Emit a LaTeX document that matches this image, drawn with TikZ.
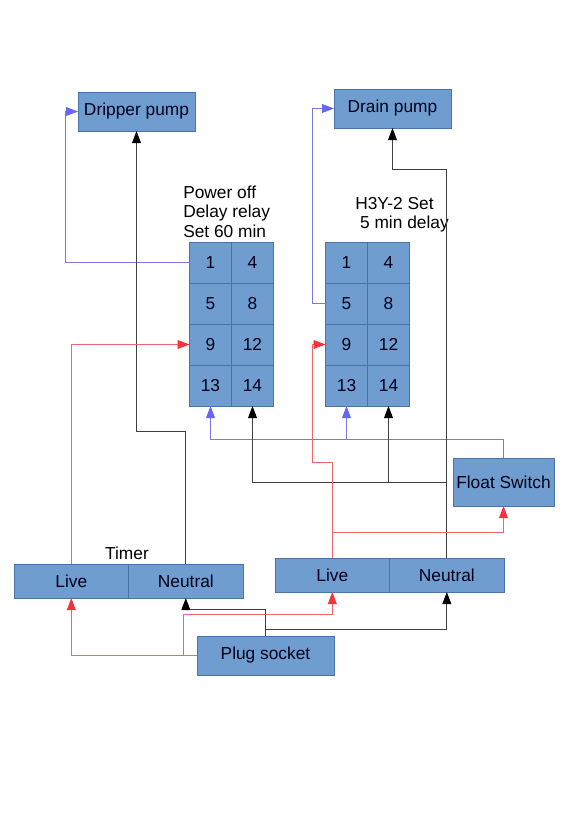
\documentclass[tikz,border=0pt]{standalone}
\usepackage{fontspec}
\setmainfont{Liberation Sans}
\usetikzlibrary{arrows.meta}
\definecolor{boxBlue}{HTML}{6F9DCF}
\definecolor{boxEdge}{HTML}{4A74A8}
\definecolor{wireRedColor}{HTML}{F0666C}
\definecolor{tipRedColor}{HTML}{F4333C}
\definecolor{wireBlueColor}{HTML}{7A78E0}
\definecolor{tipBlueColor}{HTML}{6666EE}

\begin{document}
\begin{tikzpicture}[
  x=0.75pt,
  y=-0.75pt,
  font=\fontsize{13}{14.6}\selectfont,
  block/.style={
    draw=boxEdge,
    line width=0.6pt,
    fill=boxBlue,
    text=black!90!blue,
    inner sep=0pt,
    outer sep=0pt,
    anchor=north west
  },
  pumpbox/.style={
    block,
    minimum width=87.75pt,
    minimum height=29.25pt
  },
  cell/.style={
    block,
    minimum width=31.5pt,
    minimum height=30.75pt
  },
  half/.style={
    block,
    minimum width=86pt,
    minimum height=25.5pt
  },
  caption/.style={
    anchor=north west,
    align=left,
    inner sep=0pt
  },
  wireRed/.style={line width=0.65pt, draw=wireRedColor, -{Triangle[length=9pt,width=6.6pt,color=tipRedColor]}},
  wireBlue/.style={line width=0.65pt, draw=wireBlueColor, -{Triangle[length=9pt,width=6.6pt,color=tipBlueColor]}},
  wireBlack/.style={line width=0.65pt, draw=black!75, -{Triangle[length=9pt,width=6.6pt,color=black]}}
]

\useasboundingbox (0,0) rectangle (584,825);

\node[pumpbox] (dripper) at (78,92) {Dripper pump};
\node[pumpbox] (drain) at (334,89) {Drain pump};

\node[caption] (delayText) at (183,185.5) {Power off\\Delay relay\\Set 60 min};
\node[caption] (setText) at (355,197) {H3Y-2 Set\\\hspace*{3.6pt}5 min delay};
\node[caption, anchor=north] (timerText) at (127,546.5) {Timer};

\node[cell] (delayOne) at (189.5,242) {1};
\node[cell] (delayFour) at (231.5,242) {4};
\node[cell] (delayFive) at (189.5,283) {5};
\node[cell] (delayEight) at (231.5,283) {8};
\node[cell] (delayNine) at (189.5,324) {9};
\node[cell] (delayTwelve) at (231.5,324) {12};
\node[cell] (delayThirteen) at (189.5,365) {13};
\node[cell] (delayFourteen) at (231.5,365) {14};

\node[cell] (hyOne) at (325.5,242) {1};
\node[cell] (hyFour) at (367.5,242) {4};
\node[cell] (hyFive) at (325.5,283) {5};
\node[cell] (hyEight) at (367.5,283) {8};
\node[cell] (hyNine) at (325.5,324) {9};
\node[cell] (hyTwelve) at (367.5,324) {12};
\node[cell] (hyThirteen) at (325.5,365) {13};
\node[cell] (hyFourteen) at (367.5,365) {14};

\node[block, minimum width=75.75pt, minimum height=36pt] (floatSwitch) at (453,458) {Float Switch};

\node[half] (timerLive) at (14,564) {Live};
\node[half] (timerNeutral) at (128.5,564) {Neutral};
\node[half] (hyLive) at (275,558) {Live};
\node[half] (hyNeutral) at (389.5,558) {Neutral};

\node[block, minimum width=102.75pt, minimum height=29.25pt] (plug) at (197,636) {Plug socket};

\coordinate (dripperBend) at (65,0 |- delayOne.west);
\coordinate (drainBend) at (312,0 |- hyFive.west);
\coordinate (floatBus) at (hyThirteen.south |- 0,439);
\coordinate (dripperDrop) at (dripper.south |- 0,431);
\coordinate (drainDrop) at (drain.south |- 0,169);
\coordinate (hyFeed) at (hyNeutral.north |- 0,482);
\coordinate (hyBranch) at (hyFourteen.south |- 0,482);
\coordinate (hyTap) at (hyLive.north |- 0,532);
\coordinate (hyStep) at (312,462);
\coordinate (plugRed) at (183,656);
\coordinate (plugBlack) at (plug.north |- 0,629);
\coordinate (plugTop) at (plug.north |- 0,609);
\coordinate (plugBus) at (hyLive.south |- 0,614);

\draw[wireBlue] (delayOne.west) -- (dripperBend) |- (dripper.west);
\draw[wireBlue] (hyFive.west) -- (drainBend) |- (drain.west);
\draw[wireBlue] (floatSwitch.north) |- (floatBus) -- (hyThirteen.south);
\draw[wireBlue] (floatBus) -| (delayThirteen.south);

\draw[wireBlack] (timerNeutral.north) |- (dripperDrop) -- (dripper.south);
\draw[wireBlack] (hyNeutral.north) |- (drainDrop) -- (drain.south);
\draw[wireBlack] (hyFeed) -- (hyBranch) -- (hyFourteen.south);
\draw[wireBlack] (hyBranch) -| (delayFourteen.south);
\draw[wireBlack] (plug.north) -- (plugTop) -| (timerNeutral.south);
\draw[wireBlack] (plugBlack) -| (hyNeutral.south);

\draw[wireRed] (timerLive.north) |- (delayNine.west);
\draw[wireRed] (hyLive.north) |- (hyStep) |- (hyNine.west);
\draw[wireRed] (hyTap) -| (floatSwitch.south);
\draw[wireRed] (plug.west) -| (timerLive.south);
\draw[wireRed] (plugRed) |- (plugBus) -- (hyLive.south);

\end{tikzpicture}
\end{document}
